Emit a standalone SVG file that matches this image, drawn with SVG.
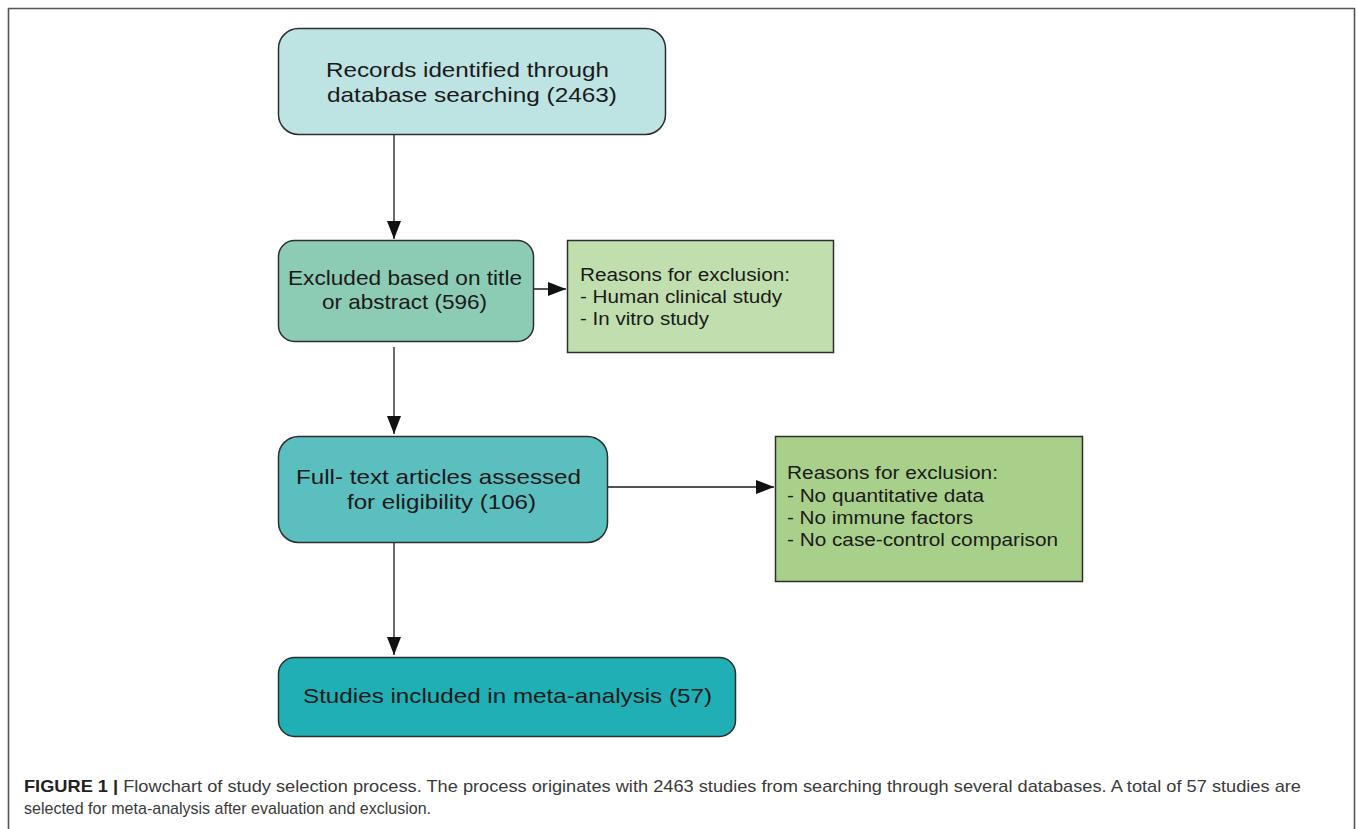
<svg xmlns="http://www.w3.org/2000/svg" width="1357" height="829" viewBox="0 0 1357 829">
<defs>
<style>
.box{stroke:#2e2e2e;stroke-width:1.5}
.t{font-family:"Liberation Sans",Arial,sans-serif;font-size:21px;fill:#1a1a1a}
.r{font-family:"Liberation Sans",Arial,sans-serif;font-size:17.5px;fill:#1a1a1a}
.cap{font-family:"Liberation Sans",Arial,sans-serif;font-size:17px;fill:#3a3a3a}
.edge{stroke:#1a1a1a;stroke-width:1.3;fill:none;marker-end:url(#ah)}
</style>
<marker id="ah" markerUnits="userSpaceOnUse" markerWidth="20" markerHeight="16" refX="18" refY="7" orient="auto">
<path d="M0,0 L18,7 L0,14 Z" fill="#111"/>
</marker>
</defs>
<rect width="1357" height="829" fill="#fff"/>
<path d="M8.5,840 L8.5,8.5 L1354.5,8.5 L1354.5,840" fill="none" stroke="#555" stroke-width="1.6"/>

<g id="connectors">
<line class="edge" x1="394" y1="134" x2="394" y2="239"/>
<line class="edge" x1="533" y1="289" x2="566" y2="289"/>
<line class="edge" x1="394" y1="347" x2="394" y2="434"/>
<line class="edge" x1="607" y1="487" x2="774" y2="487"/>
<line class="edge" x1="394" y1="542" x2="394" y2="655"/>
</g>

<g id="records">
<rect class="box" x="278.5" y="28.5" width="387" height="106" rx="20" fill="#bde3e2"/>
<text class="t" x="467.5" y="77" text-anchor="middle" textLength="283" lengthAdjust="spacingAndGlyphs">Records identified through</text>
<text class="t" x="472" y="102" text-anchor="middle" textLength="290" lengthAdjust="spacingAndGlyphs">database searching (2463)</text>
</g>

<g id="excluded">
<rect class="box" x="278.5" y="240.5" width="255" height="101" rx="16" fill="#8ccbb4"/>
<text class="t" x="405" y="285" text-anchor="middle" textLength="234" lengthAdjust="spacingAndGlyphs">Excluded based on title</text>
<text class="t" x="404.5" y="309" text-anchor="middle" textLength="165" lengthAdjust="spacingAndGlyphs">or abstract (596)</text>
</g>

<g id="reasons1">
<rect class="box" x="567.5" y="240.5" width="266" height="112" fill="#c1dfae"/>
<text class="r" x="580" y="281" textLength="210" lengthAdjust="spacingAndGlyphs">Reasons for exclusion:</text>
<text class="r" x="580" y="303" textLength="202" lengthAdjust="spacingAndGlyphs">- Human clinical study</text>
<text class="r" x="580" y="325" textLength="129" lengthAdjust="spacingAndGlyphs">- In vitro study</text>
</g>

<g id="fulltext">
<rect class="box" x="278.5" y="436.5" width="329" height="106" rx="20" fill="#5bbfc0"/>
<text class="t" x="438.5" y="484" text-anchor="middle" textLength="285" lengthAdjust="spacingAndGlyphs">Full- text articles assessed</text>
<text class="t" x="441.5" y="509" text-anchor="middle" textLength="189" lengthAdjust="spacingAndGlyphs">for eligibility (106)</text>
</g>

<g id="reasons2">
<rect class="box" x="775.5" y="436.5" width="307" height="145" fill="#a9d08a"/>
<text class="r" x="787" y="479" textLength="211" lengthAdjust="spacingAndGlyphs">Reasons for exclusion:</text>
<text class="r" x="787" y="502" textLength="197" lengthAdjust="spacingAndGlyphs">- No quantitative data</text>
<text class="r" x="787" y="524" textLength="186" lengthAdjust="spacingAndGlyphs">- No immune factors</text>
<text class="r" x="787" y="546" textLength="271" lengthAdjust="spacingAndGlyphs">- No case-control comparison</text>
</g>

<g id="included">
<rect class="box" x="278.5" y="657.5" width="457" height="79" rx="16" fill="#20afb5"/>
<text class="t" x="507.5" y="703" text-anchor="middle" textLength="409" lengthAdjust="spacingAndGlyphs">Studies included in meta-analysis (57)</text>
</g>

<g id="caption">
<text class="cap" x="24" y="792" textLength="1277" lengthAdjust="spacingAndGlyphs"><tspan font-weight="bold" fill="#222">FIGURE 1 |</tspan> Flowchart of study selection process. The process originates with 2463 studies from searching through several databases. A total of 57 studies are</text>
<text class="cap" x="24" y="814" textLength="407" lengthAdjust="spacingAndGlyphs">selected for meta-analysis after evaluation and exclusion.</text>
</g>
</svg>
